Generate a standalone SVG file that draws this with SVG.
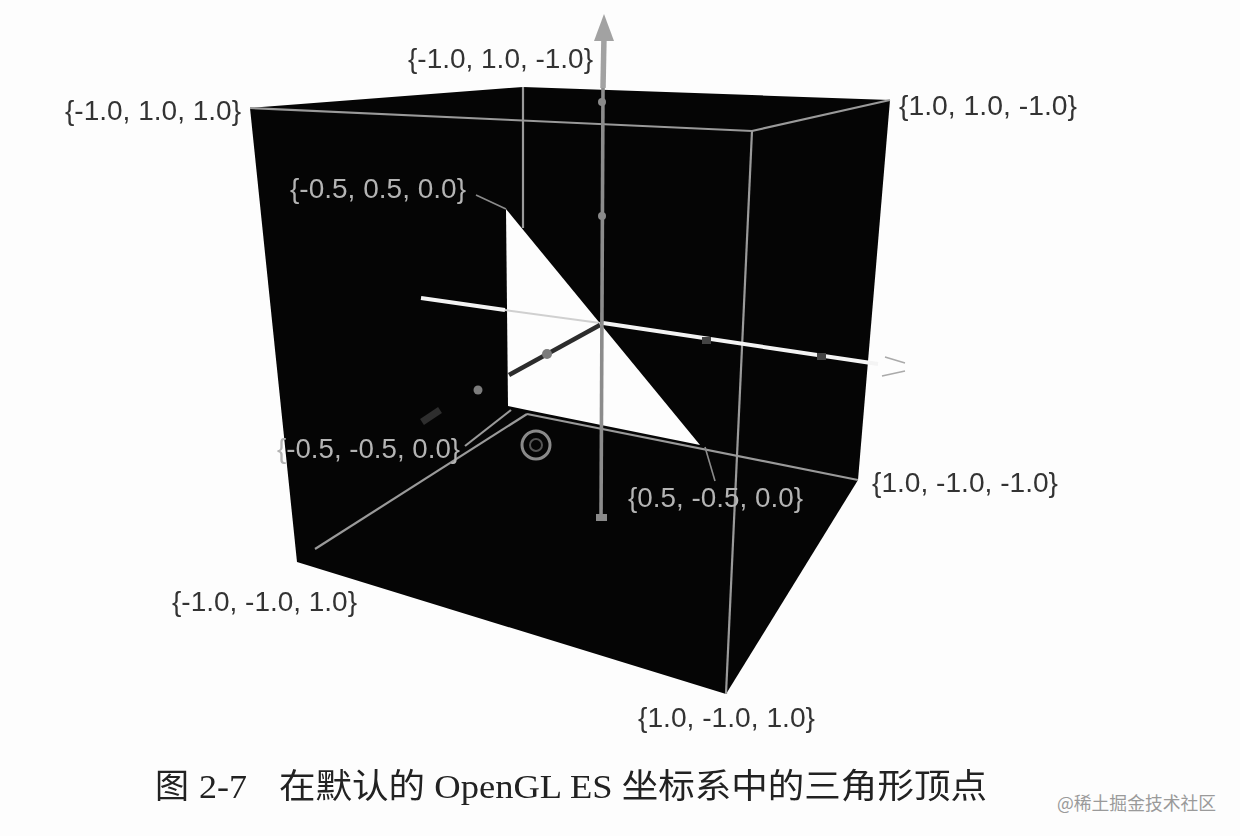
<svg xmlns="http://www.w3.org/2000/svg" width="1240" height="836" viewBox="0 0 1240 836">
<style>
.lb{font-family:"Liberation Sans",Arial,sans-serif;font-size:27px;fill:#333}
.li{font-family:"Liberation Sans",Arial,sans-serif;font-size:27px;fill:#b4b4b4}
.cap{font-family:"Liberation Serif","Noto Sans CJK SC",serif;font-size:34px;fill:#222}
.edge{fill:none;stroke:#9a9a9a;stroke-width:2.2}
.thin{fill:none;stroke:#8c8c8c;stroke-width:1.6}
.dot{fill:#8a8a8a}
</style>
<defs><filter id="soft" x="-5%" y="-5%" width="110%" height="110%" color-interpolation-filters="sRGB"><feGaussianBlur stdDeviation="0.55"/></filter></defs>
<rect width="1240" height="836" fill="#fdfdfd"/>
<g filter="url(#soft)">
<g id="cube">
<polygon points="250,108 523,87 890,100 858,480 726,694 297,562" fill="#050505"/>
<polygon id="triangle" points="506,209 700,445 527,410 508,406" fill="#fdfdfd"/>
<path class="edge" d="M250,108 L752,131 L890,100"/>
<path class="edge" d="M752,131 L726,694"/>
<path class="edge" d="M523,87 L523,228"/>
<path class="edge" d="M527,414 L858,480"/>
<path class="edge" d="M315,549 L527,414"/>
<path class="edge" d="M465,446 L511,410"/>
</g>
<g id="connectors">
<path class="thin" d="M476,195 L506,209"/>
<path class="thin" d="M705,447 L715,481"/>
</g>
<g id="axes">
<line x1="421" y1="298" x2="505" y2="310" stroke="#f4f4f4" stroke-width="4"/>
<line x1="505" y1="310" x2="600" y2="323" stroke="#d0d0d0" stroke-width="2"/>
<line x1="509" y1="375" x2="600" y2="325" stroke="#2c2c2c" stroke-width="4.5"/>
<line x1="603" y1="323" x2="878" y2="364" stroke="#f4f4f4" stroke-width="4"/>
<path d="M885,357 L905,363 M882,376 L905,371" fill="none" stroke="#aaa" stroke-width="1.6"/>
<line x1="601" y1="520" x2="603" y2="88" stroke="#8c8c8c" stroke-width="3.6"/>
<line x1="603" y1="88" x2="604" y2="36" stroke="#a2a2a2" stroke-width="5.5"/>
<polygon points="604,14 594,41 614,41" fill="#a2a2a2"/>
<circle class="dot" cx="602" cy="102" r="4"/>
<circle class="dot" cx="602" cy="216" r="4"/>
<rect x="596" y="514" width="11" height="7" class="dot"/>
<circle cx="547" cy="354" r="5" fill="#7c7c7c"/>
<circle cx="478" cy="390" r="4.5" fill="#7c7c7c"/>
<rect x="702" y="337" width="9" height="7" fill="#444"/>
<rect x="817" y="353" width="9" height="7" fill="#444"/>
<path d="M422,422 L440,410" stroke="#2e2e2e" stroke-width="7" fill="none"/>
<g id="origin-mark" fill="none" stroke="#8a8a8a"><circle cx="536" cy="445" r="14" stroke-width="3"/><circle cx="536" cy="445" r="6" stroke-width="2" stroke="#555"/></g>
</g>
<g id="v1"><text class="lb" x="408" y="68" textLength="185" lengthAdjust="spacingAndGlyphs">{-1.0, 1.0, -1.0}</text></g>
<g id="v2"><text class="lb" x="65" y="120" textLength="176" lengthAdjust="spacingAndGlyphs">{-1.0, 1.0, 1.0}</text></g>
<g id="v3"><text class="lb" x="899" y="115" textLength="178" lengthAdjust="spacingAndGlyphs">{1.0, 1.0, -1.0}</text></g>
<g id="v4"><text class="li" x="290" y="198" textLength="176" lengthAdjust="spacingAndGlyphs">{-0.5, 0.5, 0.0}</text></g>
<g id="v5"><text class="li" x="277" y="458" textLength="183" lengthAdjust="spacingAndGlyphs">{-0.5, -0.5, 0.0}</text></g>
<g id="v6"><text class="li" x="628" y="507" textLength="175" lengthAdjust="spacingAndGlyphs">{0.5, -0.5, 0.0}</text></g>
<g id="v7"><text class="lb" x="872" y="492" textLength="186" lengthAdjust="spacingAndGlyphs">{1.0, -1.0, -1.0}</text></g>
<g id="v8"><text class="lb" x="172" y="611" textLength="185" lengthAdjust="spacingAndGlyphs">{-1.0, -1.0, 1.0}</text></g>
<g id="v9"><text class="lb" x="638" y="727" textLength="177" lengthAdjust="spacingAndGlyphs">{1.0, -1.0, 1.0}</text></g>
<g id="caption">
<text class="cap" x="155" y="798">图</text>
<text class="cap" x="199" y="798" textLength="48" lengthAdjust="spacingAndGlyphs">2-7</text>
<text class="cap" x="279" y="798" textLength="708" lengthAdjust="spacingAndGlyphs">在默认的 OpenGL ES 坐标系中的三角形顶点</text>
</g>
</g>
<text id="watermark" x="1057" y="810" font-family="'Noto Sans CJK SC',sans-serif" font-size="18px" fill="#9a9a9a" textLength="159" lengthAdjust="spacingAndGlyphs">@稀土掘金技术社区</text>
</svg>
